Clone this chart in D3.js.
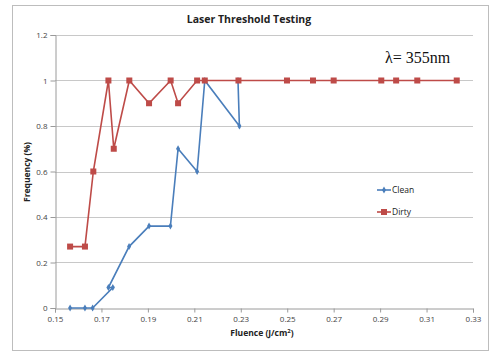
<!DOCTYPE html>
<html>
<head>
<meta charset="utf-8">
<script src="https://cdn.jsdelivr.net/npm/d3@7"></script>
<style>
  body { margin: 0; background: #fff; }
  text { font-family: "Open Sans", "Liberation Sans", sans-serif; }
</style>
</head>
<body>
<svg id="chart"></svg>
<script>
// data
var cleanX = [0.1565, 0.1629, 0.1662, 0.1749, 0.173, 0.1819, 0.1905, 0.1997, 0.203, 0.2112, 0.2145, 0.2294, 0.2288];
var cleanY = [0, 0, 0, 0.09, 0.09, 0.27, 0.36, 0.36, 0.7, 0.6, 1, 0.8, 1];
var dirtyX = [0.1565, 0.1629, 0.1665, 0.173, 0.1753, 0.182, 0.1905, 0.1998, 0.203, 0.2112, 0.2145, 0.229, 0.2499, 0.2611, 0.27, 0.2905, 0.2969, 0.306, 0.323];
var dirtyY = [0.27, 0.27, 0.6, 1, 0.7, 1, 0.9, 1, 0.9, 1, 1, 1, 1, 1, 1, 1, 1, 1, 1];
var xTicks = [0.15, 0.17, 0.19, 0.21, 0.23, 0.25, 0.27, 0.29, 0.31, 0.33];
var yTicks = [0, 0.2, 0.4, 0.6, 0.8, 1, 1.2];

var svgWidth = 499, svgHeight = 364;
var plotLeft = 55, plotRight = 473, plotTop = 35, plotBottom = 308;

var svg = d3.select('#chart')
  .attr('width', svgWidth)
  .attr('height', svgHeight);

// outer frame
svg.append('rect')
  .attr('x', 12.5).attr('y', 5.5)
  .attr('width', 476).attr('height', 345)
  .attr('fill', 'none')
  .attr('stroke', '#bdbdbd');

var x = d3.scaleLinear().domain([0.15, 0.33]).range([plotLeft, plotRight]);
var y = d3.scaleLinear().domain([0, 1.2]).range([plotBottom, plotTop]);

// gridlines
svg.append('g')
  .selectAll('line')
  .data(yTicks.filter(function(d) { return d > 0; }))
  .enter()
  .append('line')
  .attr('x1', plotLeft).attr('x2', plotRight)
  .attr('y1', function(d) { return Math.round(y(d)) + 0.5; })
  .attr('y2', function(d) { return Math.round(y(d)) + 0.5; })
  .attr('stroke', '#c8c8c8');

var xAxis = svg.append('g')
  .attr('transform', 'translate(0,' + (plotBottom + 0.5) + ')')
  .call(d3.axisBottom(x).tickValues(xTicks).tickFormat(d3.format('.2f')).tickSize(4).tickPadding(4));

var yAxis = svg.append('g')
  .attr('transform', 'translate(' + (plotLeft + 0.5) + ',0)')
  .call(d3.axisLeft(y).tickValues(yTicks).tickFormat(function(d) { return d; }).tickSize(5).tickPadding(3));

[xAxis, yAxis].forEach(function(a) {
  a.select('.domain').attr('stroke', '#9a9a9a');
  a.selectAll('.tick line').attr('stroke', '#9a9a9a');
  a.selectAll('.tick text')
    .attr('fill', '#444')
    .style('font-size', '8px')
    .style('font-family', '"Open Sans", sans-serif');
});
yAxis.selectAll('.tick text').attr('dy', '0.35em');

// series
var line = d3.line()
  .x(function(d) { return x(d[0]); })
  .y(function(d) { return y(d[1]); });

var clean = cleanX.map(function(d, i) { return [d, cleanY[i]]; });
var dirty = dirtyX.map(function(d, i) { return [d, dirtyY[i]]; });

var blue = '#4a7ebb', red = '#be4b48';

svg.append('path')
  .datum(clean)
  .attr('d', line)
  .attr('fill', 'none')
  .attr('stroke', blue)
  .attr('stroke-width', 1.6);

svg.selectAll('.cmark')
  .data(clean)
  .enter()
  .append('path')
  .attr('class', 'cmark')
  .attr('d', d3.symbol().type(d3.symbolDiamond).size(14))
  .attr('fill', blue)
  .attr('transform', function(d) { return 'translate(' + x(d[0]) + ',' + y(d[1]) + ')'; });

svg.append('path')
  .datum(dirty)
  .attr('d', line)
  .attr('fill', 'none')
  .attr('stroke', red)
  .attr('stroke-width', 1.6);

svg.selectAll('.dmark')
  .data(dirty)
  .enter()
  .append('rect')
  .attr('class', 'dmark')
  .attr('x', function(d) { return x(d[0]) - 3; })
  .attr('y', function(d) { return y(d[1]) - 3; })
  .attr('width', 6).attr('height', 6)
  .attr('fill', red);

// titles
svg.append('text')
  .attr('x', 249).attr('y', 23)
  .attr('text-anchor', 'middle')
  .style('font-size', '10.5px')
  .style('font-weight', 'bold')
  .attr('fill', '#222')
  .text('Laser Threshold Testing');

svg.append('text')
  .attr('transform', 'translate(30,172) rotate(-90)')
  .attr('text-anchor', 'middle')
  .style('font-size', '8.5px')
  .style('font-weight', 'bold')
  .attr('fill', '#222')
  .text('Frequency (%)');

var xt = svg.append('text')
  .attr('x', 262).attr('y', 336)
  .attr('text-anchor', 'middle')
  .style('font-size', '8.5px')
  .style('font-weight', 'bold')
  .attr('fill', '#222');
xt.append('tspan').text('Fluence (J/cm');
xt.append('tspan').attr('dy', -3).style('font-size', '6px').text('2');
xt.append('tspan').attr('dy', 3).text(')');

svg.append('text')
  .attr('x', 385).attr('y', 63)
  .style('font-family', '"Liberation Serif", "DejaVu Serif", serif')
  .style('font-size', '16px')
  .attr('fill', '#111')
  .text('λ= 355nm');

// legend
var legend = [['Clean', blue, 190], ['Dirty', red, 212]];
legend.forEach(function(l, i) {
  var g = svg.append('g').attr('transform', 'translate(377,' + l[2] + ')');
  g.append('line').attr('x1', 0).attr('x2', 14).attr('stroke', l[1]).attr('stroke-width', 1.6);
  if (i === 0) {
    g.append('path').attr('d', d3.symbol().type(d3.symbolDiamond).size(14)).attr('transform', 'translate(7,0)').attr('fill', l[1]);
  } else {
    g.append('rect').attr('x', 4).attr('y', -3).attr('width', 6).attr('height', 6).attr('fill', l[1]);
  }
  g.append('text').attr('x', 15).attr('dy', '0.35em')
    .style('font-size', '8.5px').attr('fill', '#222').text(l[0]);
});
</script>
</body>
</html>
